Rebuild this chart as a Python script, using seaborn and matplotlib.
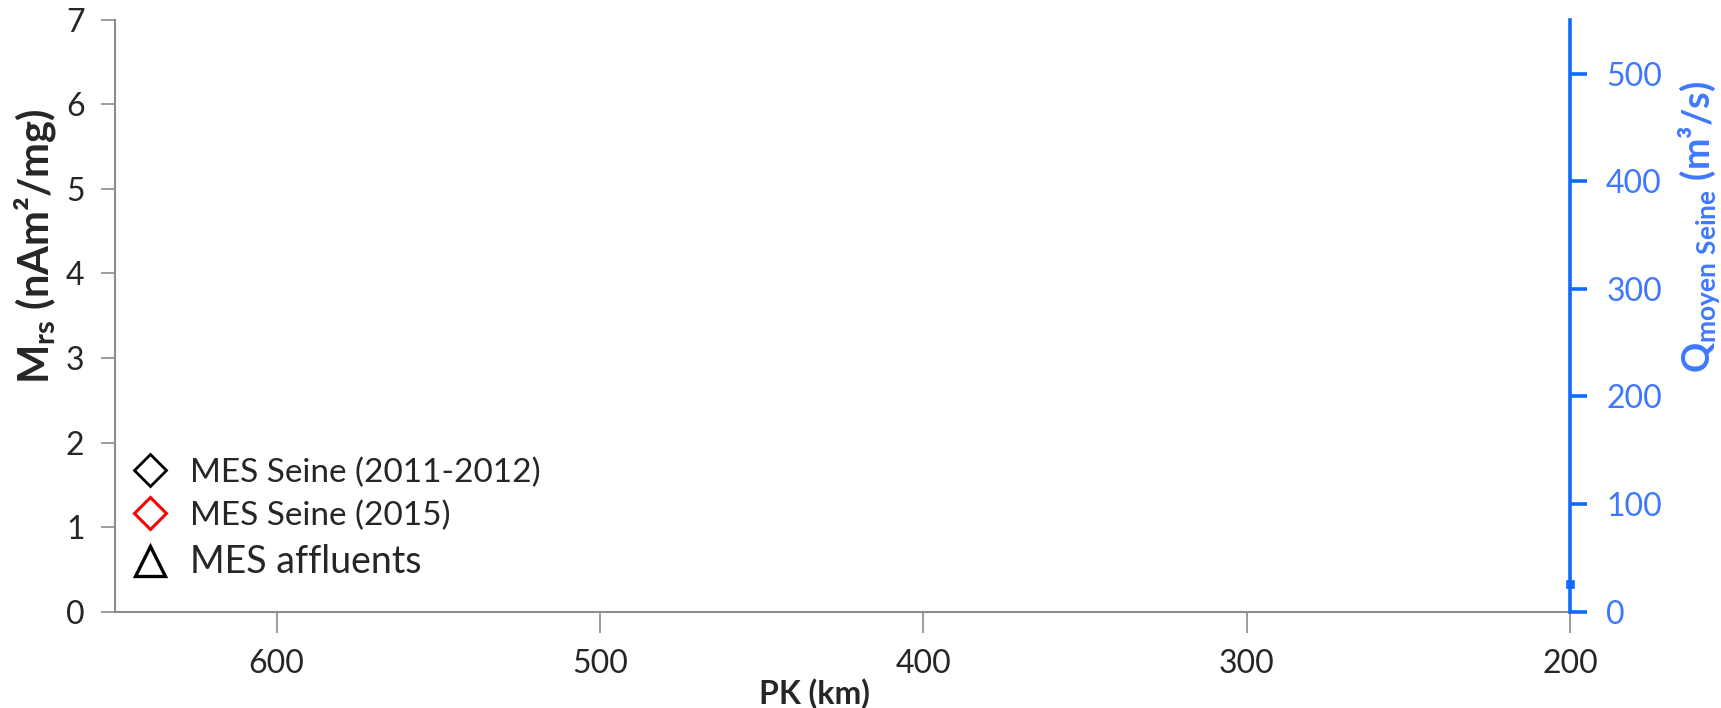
import matplotlib
matplotlib.use("Agg")
import matplotlib.pyplot as plt
import seaborn as sns
import pandas as pd

# === données ===
pk_seine_2011 = []
mrs_seine_2011 = []
pk_seine_2015 = []
mrs_seine_2015 = []
pk_affluents = []
mrs_affluents = []
pk_debit = [200]
q_moyen = [26]

x_ticks = [600, 500, 400, 300, 200]
y_ticks = [0, 1, 2, 3, 4, 5, 6, 7]
q_ticks = [0, 100, 200, 300, 400, 500]

BLUE = "#0F6BFF"
BLUE_TXT = "#3F78FF"
GRAY = "#8C8C8C"

sns.set_theme(style="white")
plt.rcParams["font.family"] = ["Lato", "DejaVu Sans"]
plt.rcParams["mathtext.fontset"] = "custom"
plt.rcParams["mathtext.rm"] = "Lato"
plt.rcParams["mathtext.bf"] = "Lato:bold"

fig = plt.figure(figsize=(17.21, 7.08), dpi=100)
ax = fig.add_axes([0.0668, 0.136, 0.8455, 0.836])

ax.plot(pk_seine_2011, mrs_seine_2011, linestyle="none", marker="D", ms=16.5,
        mfc="none", mec="black", mew=2.0, label="MES Seine (2011-2012)")
ax.plot(pk_seine_2015, mrs_seine_2015, linestyle="none", marker="D", ms=16.5,
        mfc="none", mec="#FF0000", mew=2.2, label="MES Seine (2015)")
ax.plot(pk_affluents, mrs_affluents, linestyle="none", marker="^", ms=21,
        mfc="none", mec="black", mew=2.4, label="MES affluents")

ax.set_xlim(650, 200)
ax.set_ylim(0, 7)
ax.set_xticks(x_ticks)
ax.set_yticks(y_ticks)
ax.tick_params(axis="x", direction="out", length=15, width=1.2, color=GRAY,
               labelsize=23, pad=12, bottom=True)
ax.tick_params(axis="y", direction="out", length=10, width=1.2, color=GRAY,
               labelsize=23, pad=12, left=True)
for s in ["top", "right"]:
    ax.spines[s].set_visible(False)
for s in ["left", "bottom"]:
    ax.spines[s].set_color(GRAY)
    ax.spines[s].set_linewidth(1.5)

ax.set_xlabel("PK (km)", fontsize=23, fontweight="bold")
ax.xaxis.set_label_coords(0.481, -0.113)
ax.set_ylabel(r"$\mathbf{M_{rs}}$ (nAm²/mg)", fontsize=30, fontweight="bold")
ax.yaxis.set_label_coords(-0.039, 0.617)

# axe secondaire : débit
ax2 = ax.twinx()
df_q = pd.DataFrame({"pk": pk_debit, "q": q_moyen})
sns.scatterplot(data=df_q, x="pk", y="q", ax=ax2, marker="s", s=30,
                color=BLUE, edgecolor=BLUE, clip_on=False, legend=False)
ax2.set_ylim(0, 550)
ax2.set_yticks(q_ticks)
ax2.set_xlim(650, 200)
for s in ["top", "left", "bottom"]:
    ax2.spines[s].set_visible(False)
ax2.spines["right"].set_color(BLUE)
ax2.spines["right"].set_linewidth(2.6)
ax2.tick_params(axis="y", direction="out", length=12, width=2.6, color=BLUE,
                labelcolor=BLUE_TXT, labelsize=23, pad=14, right=True)
ax2.set_ylabel(r"$\mathbf{Q_{moyen\ Seine}}$ (m³/s)", fontsize=27,
               fontweight="bold", color=BLUE_TXT)
ax2.yaxis.set_label_coords(1.073, 0.65)
ax2.set_xlabel("")

leg = ax.legend(loc="upper left", bbox_to_anchor=(-0.006, 0.30), frameon=False,
                fontsize=24, handletextpad=0.6, labelspacing=0.38,
                borderaxespad=0.3, handlelength=1.2, numpoints=1)
leg.get_texts()[2].set_fontsize(27)

fig.savefig("out.png", dpi=100)
